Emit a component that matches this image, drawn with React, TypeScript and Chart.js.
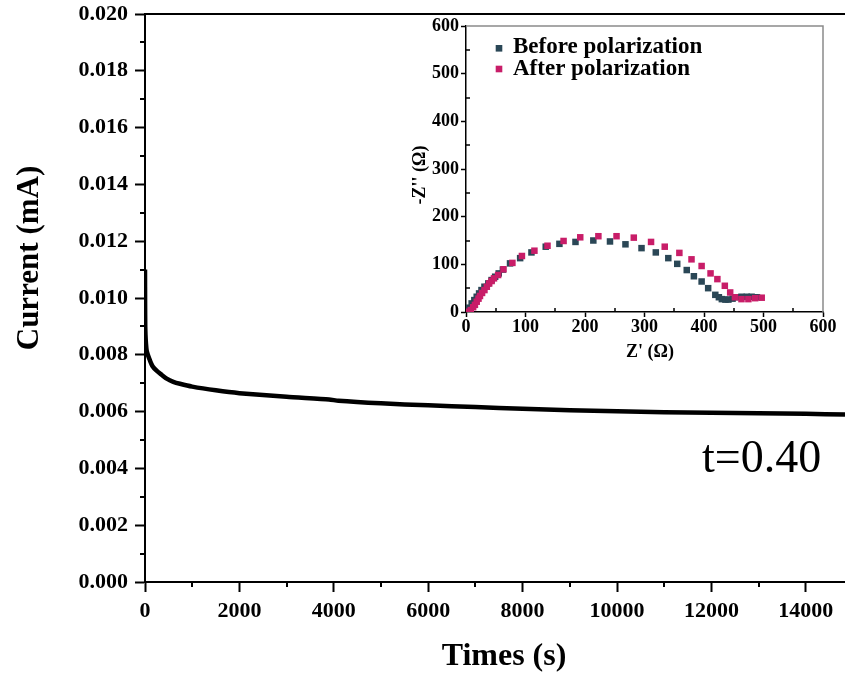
import React, { useEffect, useRef } from "react";
import { Chart, registerables } from "chart.js";
Chart.register(...registerables);

// ---- main chart data: current vs time ----
const timeS = [0, 2, 5, 10, 20, 35, 60, 105, 160, 245, 350, 460, 600, 740, 1000, 1500, 2000, 3000, 3900, 4100, 5000, 6000, 7000, 8000, 9000, 10000, 11000, 12000, 13000, 14000, 14830];
const currentMA = [0.011, 0.0098, 0.009, 0.0087, 0.0084, 0.00815, 0.008, 0.0078, 0.0076, 0.00744, 0.0073, 0.00716, 0.00705, 0.00698, 0.00688, 0.00675, 0.00665, 0.00652, 0.00643, 0.00638, 0.00629, 0.00622, 0.00616, 0.0061, 0.00605, 0.00601, 0.00598, 0.00596, 0.00594, 0.00592, 0.0059];
const xTickValues = [0, 2000, 4000, 6000, 8000, 10000, 12000, 14000];
const yTickValues = [0, 0.002, 0.004, 0.006, 0.008, 0.01, 0.012, 0.014, 0.016, 0.018, 0.02];
const annotationText = "t=0.40";
const xTitle = "Times (s)";
const yTitle = "Current (mA)";

// ---- inset data: Nyquist plot ----
const zReBefore = [0, 2, 5, 9.5, 14, 18, 22, 26, 31, 37.5, 43, 49, 55, 62, 74, 91, 110, 134, 157, 184, 214, 242, 268, 295, 319, 340, 355, 371, 383, 396, 407, 419, 425, 430, 436, 441, 448, 455, 463, 472, 480, 489];
const zImBefore = [0, 3, 9, 18, 25, 32, 39, 46, 53, 60, 67, 74, 81, 89, 102, 113, 125, 137, 143, 147, 150, 148, 142, 134, 125, 113, 101, 88, 75, 64, 50, 36, 31, 27, 26, 26, 28, 31, 32, 32, 32, 31];
const zReAfter = [4, 8, 12, 15, 18, 21, 23.5, 27, 31, 35, 39, 43, 47, 54, 63, 78, 94, 115, 137, 164, 192, 222.5, 253, 282, 311, 334, 358.6, 379, 396, 411, 422.5, 435, 444, 452, 463, 474.6, 486, 497];
const zImAfter = [0.6, 4, 10, 15, 21.6, 28, 33.6, 40, 46, 53, 60, 65, 70.6, 77.6, 89.6, 103, 117.5, 128.6, 139, 149, 156.7, 159, 159, 156, 147, 137, 124, 110.5, 96.5, 81, 69, 55, 41, 31, 27, 27, 29, 30];
const insetTicks = [0, 100, 200, 300, 400, 500, 600];
const legendLabels = ["Before polarization", "After polarization"];
const insetXTitle = "Z' (\u03A9)";
const insetYTitle = "-Z'' (\u03A9)";

const COLOR_BEFORE = "#2a4756";
const COLOR_AFTER = "#c81d68";
const SERIF = "'Liberation Serif', 'Times New Roman', serif";

const mids = (arr: number[]) => arr.slice(0, -1).map((v, i) => (v + arr[i + 1]) / 2);

const mainDecor = {
  id: "mainDecor",
  afterDraw(chart: any) {
    const { ctx, chartArea, scales } = chart;
    const { left, right, top, bottom } = chartArea;
    const x = scales.x;
    const y = scales.y;
    ctx.save();
    ctx.strokeStyle = "#000";
    ctx.lineWidth = 2;
    ctx.beginPath();
    ctx.moveTo(left - 1, top);
    ctx.lineTo(right, top);
    const xm = mids(xTickValues).concat([xTickValues[xTickValues.length - 1] + 1000]);
    for (const v of xm) {
      if (v > x.max) continue;
      const px = Math.round(x.getPixelForValue(v));
      ctx.moveTo(px, bottom);
      ctx.lineTo(px, bottom + 5);
    }
    for (const v of mids(yTickValues)) {
      const py = Math.round(y.getPixelForValue(v));
      ctx.moveTo(left, py);
      ctx.lineTo(left - 5, py);
    }
    ctx.stroke();

    ctx.fillStyle = "#000";
    ctx.font = `bold 32px ${SERIF}`;
    ctx.textAlign = "center";
    ctx.textBaseline = "alphabetic";
    ctx.fillText(xTitle, 504, 665);
    ctx.save();
    ctx.translate(38, 258);
    ctx.rotate(-Math.PI / 2);
    ctx.font = `bold 31px ${SERIF}`;
    ctx.fillText(yTitle, 0, 0);
    ctx.restore();
    ctx.font = `46px ${SERIF}`;
    ctx.textAlign = "left";
    ctx.fillText(annotationText, 702, 472);
    ctx.restore();
  },
};

const insetDecor = {
  id: "insetDecor",
  afterDraw(chart: any) {
    const { ctx, chartArea, scales } = chart;
    const { left, right, top, bottom } = chartArea;
    const x = scales.x;
    const y = scales.y;
    ctx.save();
    ctx.strokeStyle = "#8a8a8a";
    ctx.lineWidth = 1.5;
    ctx.beginPath();
    ctx.moveTo(left, top);
    ctx.lineTo(right, top);
    ctx.lineTo(right, bottom);
    ctx.stroke();

    ctx.strokeStyle = "#000";
    ctx.beginPath();
    for (const v of mids(insetTicks)) {
      const px = Math.round(x.getPixelForValue(v));
      ctx.moveTo(px, bottom);
      ctx.lineTo(px, bottom - 4);
      const py = Math.round(y.getPixelForValue(v));
      ctx.moveTo(left, py);
      ctx.lineTo(left + 4, py);
    }
    ctx.stroke();

    ctx.fillStyle = "#000";
    ctx.font = `bold 18px ${SERIF}`;
    ctx.textAlign = "center";
    ctx.textBaseline = "alphabetic";
    ctx.fillText(insetXTitle, 250, 357);
    ctx.save();
    ctx.translate(25, 175);
    ctx.rotate(-Math.PI / 2);
    ctx.fillText(insetYTitle, 0, 0);
    ctx.restore();

    const colors = [COLOR_BEFORE, COLOR_AFTER];
    const sqY = [48.3, 69];
    const txtY = [53, 75];
    ctx.font = `bold 23px ${SERIF}`;
    ctx.textAlign = "left";
    legendLabels.forEach((lab, i) => {
      ctx.fillStyle = colors[i];
      ctx.fillRect(99 - 3.3, sqY[i] - 3.3, 6.6, 6.6);
      ctx.fillStyle = "#000";
      ctx.fillText(lab, 113, txtY[i]);
    });
    ctx.restore();
  },
};

function MainChart() {
  const ref = useRef<HTMLCanvasElement | null>(null);
  useEffect(() => {
    if (!ref.current) return;
    const tickFont = { family: SERIF, size: 22, weight: "bold" as const };
    const chart = new Chart(ref.current, {
      type: "line",
      data: {
        datasets: [
          {
            data: timeS.map((t, i) => ({ x: t, y: currentMA[i] })),
            borderColor: "#000",
            borderWidth: 4.5,
            pointRadius: 0,
            tension: 0.2,
            fill: false,
          },
        ],
      },
      options: {
        animation: false,
        responsive: false,
        maintainAspectRatio: false,
        layout: { padding: { top: 14, right: 0, left: 0, bottom: 0 } },
        plugins: { legend: { display: false }, tooltip: { enabled: false } },
        scales: {
          x: {
            type: "linear",
            min: 0,
            max: 14830,
            afterBuildTicks: (s: any) => {
              s.ticks = xTickValues.map((v) => ({ value: v }));
            },
            afterFit: (s: any) => {
              s.height = 97;
              s.paddingLeft = 0;
              s.paddingRight = 0;
            },
            grid: { drawOnChartArea: false, drawTicks: true, tickLength: 10, tickColor: "#000", tickWidth: 2 },
            border: { display: true, color: "#000", width: 2 },
            ticks: { color: "#000", font: tickFont, padding: 6, maxRotation: 0, autoSkip: false, callback: (v: any) => String(v) },
          },
          y: {
            type: "linear",
            min: 0,
            max: 0.02,
            afterBuildTicks: (s: any) => {
              s.ticks = yTickValues.map((v) => ({ value: v }));
            },
            afterFit: (s: any) => {
              s.width = 145;
              s.paddingTop = 0;
              s.paddingBottom = 0;
            },
            grid: { drawOnChartArea: false, drawTicks: true, tickLength: 10, tickColor: "#000", tickWidth: 2 },
            border: { display: true, color: "#000", width: 2 },
            ticks: { color: "#000", font: tickFont, padding: 7, autoSkip: false, callback: (v: any) => Number(v).toFixed(3) },
          },
        },
      },
      plugins: [mainDecor],
    });
    return () => chart.destroy();
  }, []);
  return <canvas ref={ref} width={845} height={679} style={{ position: "absolute", left: 0, top: 0 }} />;
}

function InsetChart() {
  const ref = useRef<HTMLCanvasElement | null>(null);
  useEffect(() => {
    if (!ref.current) return;
    const tickFont = { family: SERIF, size: 18, weight: "bold" as const };
    const chart = new Chart(ref.current, {
      type: "scatter",
      data: {
        datasets: [
          {
            label: legendLabels[0],
            data: zReBefore.map((v, i) => ({ x: v, y: zImBefore[i] })),
            backgroundColor: COLOR_BEFORE,
            borderWidth: 0,
            pointStyle: "rect",
            pointRadius: 4.6,
            order: 1,
          },
          {
            label: legendLabels[1],
            data: zReAfter.map((v, i) => ({ x: v, y: zImAfter[i] })),
            backgroundColor: COLOR_AFTER,
            borderWidth: 0,
            pointStyle: "rect",
            pointRadius: 4.6,
            order: 0,
          },
        ],
      },
      options: {
        animation: false,
        responsive: false,
        maintainAspectRatio: false,
        layout: { padding: { top: 26, right: 17, left: 0, bottom: 0 } },
        plugins: { legend: { display: false }, tooltip: { enabled: false } },
        scales: {
          x: {
            type: "linear",
            min: 0,
            max: 600,
            afterBuildTicks: (s: any) => {
              s.ticks = insetTicks.map((v) => ({ value: v }));
            },
            afterFit: (s: any) => {
              s.height = 58;
              s.paddingLeft = 0;
              s.paddingRight = 0;
            },
            grid: { drawOnChartArea: false, drawTicks: true, tickLength: 5, tickColor: "#000", tickWidth: 1.5 },
            border: { display: true, color: "#000", width: 1.5 },
            ticks: { color: "#000", font: tickFont, padding: 0, maxRotation: 0, autoSkip: false, callback: (v: any) => String(v) },
          },
          y: {
            type: "linear",
            min: 0,
            max: 600,
            afterBuildTicks: (s: any) => {
              s.ticks = insetTicks.map((v) => ({ value: v }));
            },
            afterFit: (s: any) => {
              s.width = 66;
              s.paddingTop = 0;
              s.paddingBottom = 0;
            },
            grid: { drawOnChartArea: false, drawTicks: true, tickLength: 5, tickColor: "#000", tickWidth: 1.5 },
            border: { display: true, color: "#000", width: 1.5 },
            ticks: { color: "#000", font: tickFont, padding: 2, autoSkip: false, callback: (v: any) => String(v) },
          },
        },
      },
      plugins: [insetDecor],
    });
    return () => chart.destroy();
  }, []);
  return <canvas ref={ref} width={440} height={370} style={{ position: "absolute", left: 400, top: 0 }} />;
}

export default function App() {
  return (
    <div style={{ position: "absolute", left: 0, top: 0, width: 845, height: 679, background: "#fff", overflow: "hidden" }}>
      <MainChart />
      <InsetChart />
    </div>
  );
}
